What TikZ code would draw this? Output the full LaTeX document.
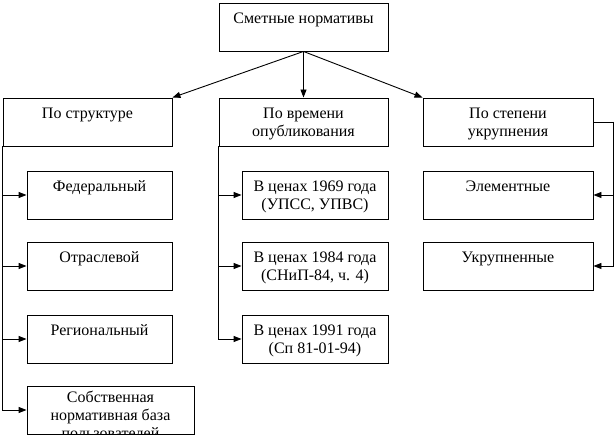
\documentclass[tikz,border=0pt]{standalone}
\usepackage{fontspec}
\setmainfont{Liberation Serif}
\usetikzlibrary{arrows.meta}
\newcommand{\stk}[1]{\begin{tabular}[t]{@{}c@{}}#1\end{tabular}}
\begin{document}
\begin{tikzpicture}[x=1pt,y=-1pt,
    blk/.style={draw, line width=0.9pt, inner xsep=0pt, inner ysep=4pt,
      text height=17pt, text depth=23pt, font=\fontsize{16}{18}\selectfont},
    arr/.style={line width=0.9pt, -{Triangle[length=8pt,width=6pt]}}]
        \useasboundingbox (0,0) rectangle (616,438);
        % top level
        \node[blk, minimum width=169pt] (norms) at (303.5,27) {Сметные нормативы};
        \node[blk, minimum width=169pt] (struct) at (87.5,122) {По структуре};
        \node[blk, minimum width=169pt] (time) at (303.5,122) {\stk{По времени\\опубликования}};
        \node[blk, minimum width=170pt] (level) at (508,122) {\stk{По степени\\укрупнения}};
        \draw[arr] (norms.south) -- (time.north);
        \draw[arr] (norms.south) -- (struct.north east);
        \draw[arr] (norms.south) -- (level.north west);
        % by structure
        \node[blk, minimum width=145pt] (fed) at (99.5,195) {Федеральный};
        \node[blk, minimum width=145pt] (branch) at (99.5,266) {Отраслевой};
        \node[blk, minimum width=145pt] (region) at (99.5,339) {Региональный};
        \node[draw, line width=0.9pt, minimum width=167pt, minimum height=48pt] (own) at (110.5,410) {};
        \begin{scope}
            \clip (own.south west) rectangle (own.north east);
            \node[anchor=north, inner sep=0pt, text height=12pt,
              font=\fontsize{16}{18}\selectfont] (owntxt) at ([yshift=-5pt]own.north)
              {\stk{Собственная\\нормативная база\\пользователей}};
        \end{scope}
        \foreach \c in {fed,branch,region,own}
            \draw[arr] (struct.south west) |- (\c.west);
        % by time of publication
        \node[blk, minimum width=146pt] (p69) at (315,195) {\stk{В ценах 1969 года\\(УПСС, УПВС)}};
        \node[blk, minimum width=146pt] (p84) at (315,266) {\stk{В ценах 1984 года\\(СНиП-84, ч. 4)}};
        \node[blk, minimum width=146pt] (p91) at (315,339) {\stk{В ценах 1991 года\\(Сп 81-01-94)}};
        \foreach \c in {p69,p84,p91}
            \draw[arr] (time.south west) |- (\c.west);
        % by level of enlargement
        \node[blk, minimum width=170pt] (elem) at (508,195) {Элементные};
        \node[blk, minimum width=170pt] (enl) at (508,266) {Укрупненные};
        \draw[line width=0.9pt] (level.east) -- ++(20,0) coordinate (lvlturn);
        \foreach \c in {elem,enl}
            \draw[arr] (lvlturn) |- (\c.east);
    \end{tikzpicture}
\end{document}
